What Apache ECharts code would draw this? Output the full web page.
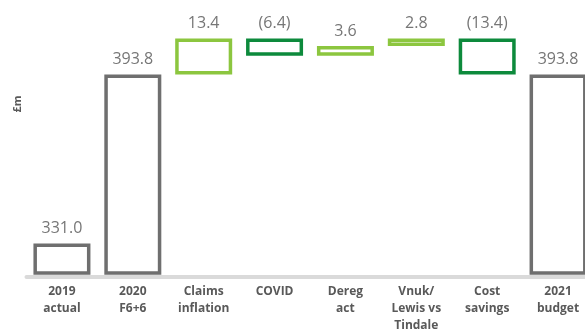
<!DOCTYPE html>
<html>
<head>
<meta charset="utf-8">
<script src="https://cdn.jsdelivr.net/npm/echarts@6/dist/echarts.min.js"></script>
<style>
html,body{margin:0;padding:0;background:#fff;}
#chart{width:585px;height:329px;}
</style>
</head>
<body>
<div id="chart"></div>
<script>
const categories = ["2019\nactual", "2020\nF6+6", "Claims\ninflation", "COVID", "Dereg\nact", "Vnuk/\nLewis vs\nTindale", "Cost\nsavings", "2021\nbudget"];
const values = [331.0, 393.8, 13.4, -6.4, 3.6, 2.8, -13.4, 393.8];
const kinds = ["total", "total", "delta", "delta", "delta", "delta", "delta", "total"];
const valueLabels = ["331.0", "393.8", "13.4", "(6.4)", "3.6", "2.8", "(13.4)", "393.8"];
const yMin = 320;
const yMax = 420;

const COL_TOTAL = '#6f6f6f';
const COL_UP = '#8cc63f';
const COL_DOWN = '#0d8a3c';

const baseData = [];
const visData = [];
let running = 0;
values.forEach((v, i) => {
  let colour;
  if (kinds[i] === 'total') {
    baseData.push(0);
    visData.push(v);
    running = v;
    colour = COL_TOTAL;
  } else {
    baseData.push(Math.min(running, running + v));
    visData.push(Math.abs(v));
    running += v;
    colour = v >= 0 ? COL_UP : COL_DOWN;
  }
  visData[i] = { value: visData[i], itemStyle: { borderColor: colour } };
});

const chart = echarts.init(document.getElementById('chart'), null, { renderer: 'canvas' });
chart.setOption({
  animation: false,
  backgroundColor: '#ffffff',
  textStyle: { fontFamily: '"Open Sans", sans-serif' },
  grid: { left: 26.5, top: 4, width: 567, height: 269, containLabel: false, outerBoundsMode: 'none' },
  xAxis: {
    type: 'category',
    data: categories,
    offset: 4,
    axisLine: { show: true, lineStyle: { color: '#dadada', width: 4 } },
    axisTick: { show: false },
    axisLabel: {
      interval: 0,
      margin: 6,
      fontSize: 12,
      fontWeight: 'bold',
      color: '#595959',
      lineHeight: 17,
      fontFamily: '"Open Sans", sans-serif'
    },
    splitLine: { show: false }
  },
  yAxis: {
    type: 'value',
    min: yMin,
    max: yMax,
    show: false,
    splitLine: { show: false }
  },
  graphic: [{
    type: 'text',
    x: 18,
    y: 104,
    rotation: Math.PI / 2,
    style: {
      text: '£m',
      font: 'bold 11px "Open Sans", sans-serif',
      fill: '#595959',
      align: 'center',
      verticalAlign: 'middle'
    }
  }],
  series: [
    {
      name: 'base',
      type: 'bar',
      stack: 'w',
      barWidth: 57,
      silent: true,
      itemStyle: { color: 'transparent', borderWidth: 0 },
      data: baseData
    },
    {
      name: 'value',
      type: 'bar',
      stack: 'w',
      barWidth: 57,
      itemStyle: { color: '#ffffff', borderWidth: 3.5 },
      label: {
        show: true,
        position: 'top',
        distance: 7,
        fontSize: 16,
        color: '#767676',
        fontFamily: '"Open Sans", sans-serif',
        formatter: p => valueLabels[p.dataIndex]
      },
      data: visData
    }
  ]
});
</script>
</body>
</html>
